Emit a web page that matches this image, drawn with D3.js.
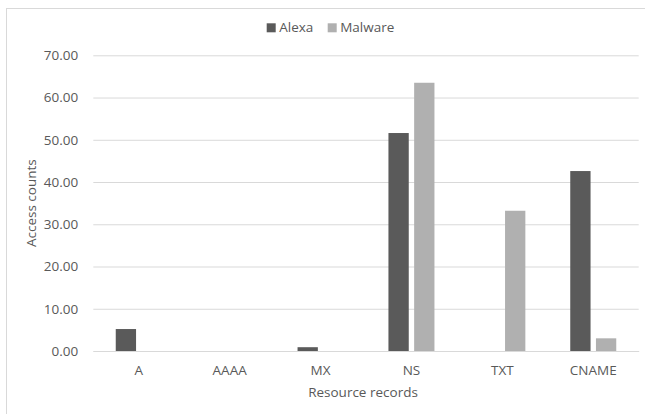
<!DOCTYPE html>
<html>
<head>
<meta charset="utf-8">
<script src="https://cdn.jsdelivr.net/npm/d3@7"></script>
<style>
  html, body { margin: 0; padding: 0; background: #fff; }
  svg { display: block; }
  text { font-family: "Open Sans", sans-serif; fill: #595959; }
</style>
</head>
<body>
<script>
const categories = ["A", "AAAA", "MX", "NS", "TXT", "CNAME"];
const seriesNames = ["Alexa", "Malware"];
const alexaValues = [5.2, 0, 0.9, 51.6, 0, 42.6];
const malwareValues = [0, 0, 0, 63.5, 33.2, 3.0];
const yTicks = [0, 10, 20, 30, 40, 50, 60, 70];
const colors = ["#5a5a5a", "#b0b0b0"];

const W = 645, H = 414;
const svg = d3.select("body").append("svg").attr("width", W).attr("height", H);

// outer chart border
svg.append("rect").attr("x", 6.5).attr("y", 8.5).attr("width", 700).attr("height", 500)
  .attr("fill", "#fff").attr("stroke", "#d9d9d9").attr("stroke-width", 1);

const plotLeft = 93.3, plotRight = 638.7, plotTop = 55.3, plotBottom = 351;

const x0 = d3.scaleBand().domain(categories).range([plotLeft, plotRight]).padding(0);
const groupW = 46;
const x1 = d3.scaleBand().domain(seriesNames)
  .range([(x0.bandwidth() - groupW) / 2, (x0.bandwidth() + groupW) / 2])
  .paddingInner(0.21).paddingOuter(0);
const y = d3.scaleLinear().domain([0, 70]).range([plotBottom, plotTop]);

// gridlines
const yAxis = d3.axisLeft(y).tickValues(yTicks).tickSize(-(plotRight - plotLeft)).tickFormat(d3.format(".2f")).tickPadding(15);
const gy = svg.append("g").attr("transform", `translate(${plotLeft},0)`).call(yAxis);
gy.select(".domain").remove();
gy.selectAll(".tick line").attr("stroke", "#d9d9d9").attr("stroke-width", 1);
gy.selectAll(".tick text").style("font-size", "13.5px").attr("fill", "#595959");

// bars
const data = categories.map((c, i) => ({ cat: c, vals: [alexaValues[i], malwareValues[i]] }));
const groups = svg.append("g").selectAll("g").data(data).join("g")
  .attr("transform", d => `translate(${x0(d.cat)},0)`);
groups.selectAll("rect").data(d => d.vals.map((v, j) => ({ s: seriesNames[j], v, j })).filter(d => d.v > 0))
  .join("rect")
  .attr("x", d => x1(d.s))
  .attr("width", x1.bandwidth())
  .attr("y", d => y(d.v))
  .attr("height", d => y(0) - y(d.v))
  .attr("fill", d => colors[d.j]);

// x axis
const xAxis = d3.axisBottom(x0).tickSize(0).tickPadding(14);
const gx = svg.append("g").attr("transform", `translate(0,${plotBottom})`).call(xAxis);
gx.select(".domain").attr("stroke", "#d9d9d9");
gx.selectAll(".tick text").style("font-size", "13.5px").attr("fill", "#595959");

// axis titles
svg.append("text").attr("x", (plotLeft + plotRight) / 2 - 3).attr("y", 397)
  .attr("text-anchor", "middle").style("font-size", "13.5px").text("Resource records");
svg.append("text").attr("transform", `translate(36,${(plotTop + plotBottom) / 2}) rotate(-90)`)
  .attr("text-anchor", "middle").style("font-size", "13.5px").text("Access counts");

// legend
const legend = svg.append("g");
const legendItems = [{ name: "Alexa", x: 266.7 }, { name: "Malware", x: 327.7 }];
legendItems.forEach((it, j) => {
  legend.append("rect").attr("x", it.x).attr("y", 23.3).attr("width", 9).attr("height", 9).attr("fill", colors[j]);
  legend.append("text").attr("x", it.x + 12.5).attr("y", 32).style("font-size", "13.5px").text(it.name);
});
</script>
</body>
</html>
